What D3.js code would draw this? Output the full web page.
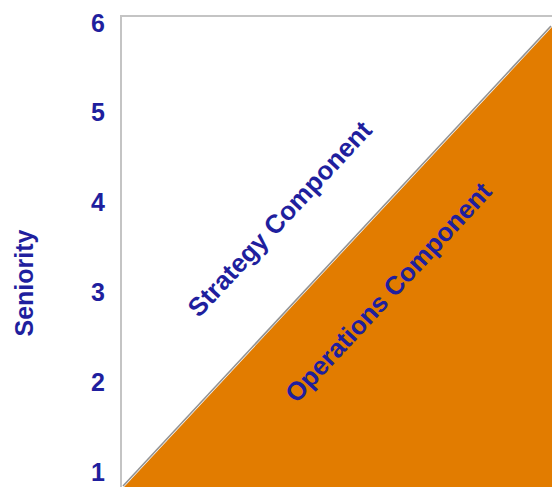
<!DOCTYPE html>
<html>
<head>
<meta charset="utf-8">
<script src="https://cdn.jsdelivr.net/npm/d3@7"></script>
<style>
  html, body { margin: 0; padding: 0; background: #ffffff; }
  svg { display: block; }
</style>
</head>
<body>
<svg id="chart" width="552" height="487"></svg>
<script>
// ---- data ----
const yTicks = [1, 2, 3, 4, 5, 6];
const yTitle = "Seniority";
// boundary between the two components (x in arbitrary units, y in seniority)
const boundaryX = [0.035, 5];
const boundaryY = [0.833, 5.955];
const regionLabels = ["Strategy Component", "Operations Component"];
// label anchor positions in data units
const labelX = [1.84, 3.1];
const labelY = [3.82, 3.0];

// ---- layout ----
const W = 552, H = 487;
const plotLeft = 121, plotRight = 552, plotTop = 16, plotBottom = 487;
const navy = "#1f1f9e";
const orange = "#e27c00";
const font = "'Liberation Sans', Arial, sans-serif";

const svg = d3.select("#chart");

const x = d3.scaleLinear().domain([0, 5]).range([plotLeft, plotRight]);
const y = d3.scaleLinear().domain([1, 6]).range([472, 23]);

// clip to plot area
svg.append("defs").append("clipPath").attr("id", "plotClip")
  .append("rect")
  .attr("x", plotLeft).attr("y", plotTop)
  .attr("width", plotRight - plotLeft).attr("height", plotBottom - plotTop);

const plot = svg.append("g").attr("clip-path", "url(#plotClip)");

// orange triangle (operations component)
const tri = [
  [boundaryX[0], boundaryY[0]],
  [boundaryX[1], boundaryY[1]],
  [boundaryX[1], boundaryY[0]]
];
// soft shadow along the diagonal
plot.append("line")
  .attr("x1", x(boundaryX[0]) - 1).attr("y1", y(boundaryY[0]) - 1)
  .attr("x2", x(boundaryX[1]) - 1).attr("y2", y(boundaryY[1]) - 1)
  .attr("stroke", "#6e6e6e").attr("stroke-width", 1.6).attr("stroke-opacity", 0.75);

plot.append("path")
  .attr("d", d3.line().x(d => x(d[0])).y(d => y(d[1]))(tri) + "Z")
  .attr("fill", orange);

// plot border (left and top visible)
svg.append("path")
  .attr("d", `M${plotLeft},${plotBottom}V${plotTop}H${plotRight}`)
  .attr("fill", "none").attr("stroke", "#c4c4c4").attr("stroke-width", 2);

// y axis labels
const yAxis = d3.axisLeft(y).tickValues(yTicks).tickSize(0).tickPadding(16)
  .tickFormat(d3.format("d"));
const ag = svg.append("g").attr("transform", `translate(${plotLeft},0)`).call(yAxis);
ag.select(".domain").remove();
ag.selectAll("text")
  .attr("fill", navy)
  .style("font-family", font)
  .style("font-weight", "bold")
  .style("font-size", "25px");

// y title
svg.append("text")
  .attr("transform", `translate(24,283) rotate(-90)`)
  .attr("text-anchor", "middle")
  .attr("dominant-baseline", "central")
  .attr("fill", navy)
  .style("font-family", font)
  .style("font-weight", "bold")
  .style("font-size", "25px")
  .text(yTitle);

// diagonal angle in screen space
const ang = Math.atan2(y(boundaryY[1]) - y(boundaryY[0]), x(boundaryX[1]) - x(boundaryX[0])) * 180 / Math.PI;

regionLabels.forEach((t, i) => {
  svg.append("text")
    .attr("transform", `translate(${x(labelX[i])},${y(labelY[i])}) rotate(${ang})`)
    .attr("text-anchor", "middle")
    .attr("dominant-baseline", "central")
    .attr("fill", navy)
    .style("font-family", font)
    .style("font-weight", "bold")
    .style("font-size", "26px")
    .text(t);
});
</script>
</body>
</html>
